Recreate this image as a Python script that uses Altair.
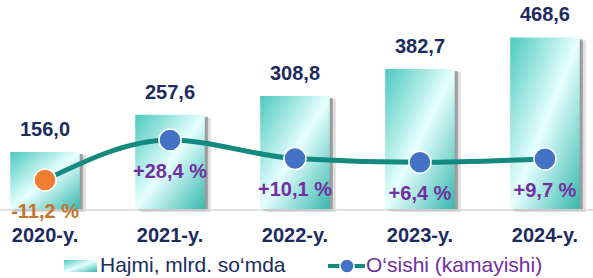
import altair as alt
import pandas as pd

years = ["2020-y.", "2021-y.", "2022-y.", "2023-y.", "2024-y."]
volume = [156.0, 257.6, 308.8, 382.7, 468.6]
growth = [-11.2, 28.4, 10.1, 6.4, 9.7]


def fmt(v):
    return f"{v:.1f}".replace(".", ",")


df = pd.DataFrame({
    "year": years,
    "volume": volume,
    "growth": growth,
    "vlabel": [fmt(v) for v in volume],
    "glabel": [("+" if g > 0 else "") + fmt(g) + " %" for g in growth],
})
one = pd.DataFrame({"k": [0]})

FONT = "Liberation Sans"
NAVY = "#1C2B5E"
TEAL = "#14897F"
PURPLE = "#7030A0"
ORANGE_PT = "#ED7D31"
ORANGE_TXT = "#C5742C"
BLUE = "#4472C4"

x = alt.X(
    "year:N", sort=years, title=None,
    scale=alt.Scale(paddingInner=0.4436, paddingOuter=0.0821),
    axis=alt.Axis(labelAngle=0, labelFont=FONT, labelFontSize=20,
                  labelFontWeight="bold", labelColor=NAVY, labelPadding=16,
                  domain=False, ticks=False, grid=False),
)
ybar = alt.Y("volume:Q", scale=alt.Scale(domain=[0, 571], nice=False, zero=True), axis=None)
ypct = alt.Y("growth:Q", scale=alt.Scale(domain=[-39.9, 167.0], nice=False, zero=False), axis=None)

grad = alt.Gradient(
    gradient="linear",
    stops=[
        alt.GradientStop(color="#4CC9BF", offset=0),
        alt.GradientStop(color="#E6FFFE", offset=0.5),
        alt.GradientStop(color="#38B8AE", offset=1),
    ],
    x1=0, y1=0, x2=1, y2=1,
)

base = alt.Chart(df)

baseline = alt.Chart(one).mark_rule(color="#D9D9D9", strokeWidth=1.5).encode(
    x=alt.value(0), x2=alt.value(593), y=alt.value(210)
)
shadow2 = base.mark_bar(color="#A0A0A0", opacity=0.35, xOffset=6, yOffset=3).encode(x=x, y=ybar)
shadow1 = base.mark_bar(color="#707070", opacity=0.6, xOffset=3, yOffset=2).encode(x=x, y=ybar)
bars = base.mark_bar(color=grad).encode(x=x, y=ybar)
vlabels = base.mark_text(dy=-22, font=FONT, fontSize=20, fontWeight="bold",
                         color=NAVY, baseline="middle").encode(x=x, y=ybar, text="vlabel")

line = base.mark_line(color=TEAL, strokeWidth=5, interpolate="monotone").encode(x=x, y=ypct)
points = base.mark_circle(size=490, opacity=1, stroke="white", strokeWidth=1.5).encode(
    x=x, y=ypct,
    color=alt.condition(alt.datum.growth < 0, alt.value(ORANGE_PT), alt.value(BLUE)),
)
glabels = base.mark_text(dy=32, font=FONT, fontSize=20, fontWeight="bold", baseline="middle").encode(
    x=x, y=ypct, text="glabel",
    color=alt.condition(alt.datum.growth < 0, alt.value(ORANGE_TXT), alt.value(PURPLE)),
)

leg_swatch = alt.Chart(one).mark_rect(color=grad).encode(
    x=alt.value(64), x2=alt.value(97), y=alt.value(260), y2=alt.value(272)
)
leg_text1 = alt.Chart(one).mark_text(text="Hajmi, mlrd. so‘mda", align="left", baseline="middle",
                                     font=FONT, fontSize=21, color=NAVY).encode(
    x=alt.value(100), y=alt.value(266)
)
leg_rule = alt.Chart(one).mark_rule(color=TEAL, strokeWidth=4).encode(
    x=alt.value(328), x2=alt.value(365), y=alt.value(266)
)
leg_pt = alt.Chart(one).mark_circle(size=200, color=BLUE, opacity=1, stroke="white", strokeWidth=1.5).encode(
    x=alt.value(347), y=alt.value(266)
)
leg_text2 = alt.Chart(one).mark_text(text="O‘sishi (kamayishi)", align="left", baseline="middle",
                                     font=FONT, fontSize=21, color=PURPLE).encode(
    x=alt.value(366), y=alt.value(266)
)

chart = alt.layer(
    shadow2, shadow1, baseline, bars, vlabels, line, points, glabels,
    leg_swatch, leg_text1, leg_rule, leg_pt, leg_text2,
).resolve_scale(y="independent").properties(
    width=590, height=209,
    autosize=alt.AutoSizeParams(type="none"),
    padding={"left": 0, "top": 0, "right": 3, "bottom": 69},
    background="white",
).configure_view(strokeWidth=0)

chart.save("out.html", embed_options={"renderer": "svg", "actions": False})
